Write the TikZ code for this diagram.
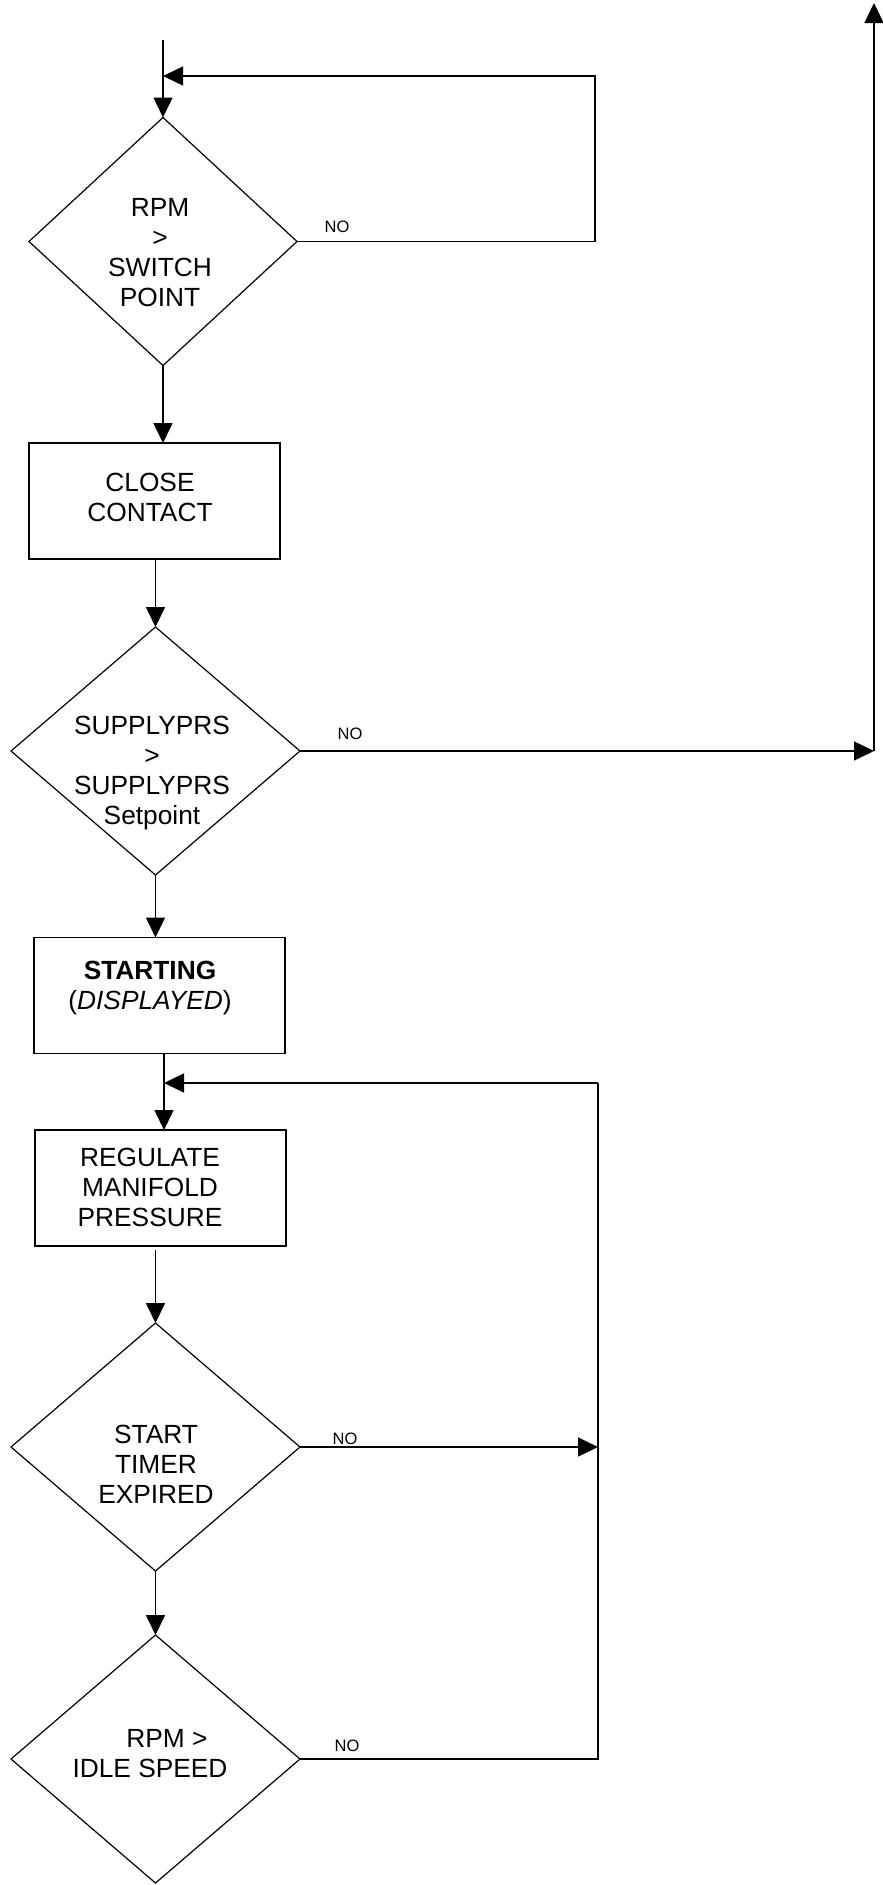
\documentclass[tikz,border=0pt]{standalone}
\usepackage{fontspec}
\setmainfont{Liberation Sans}
\usetikzlibrary{shapes.geometric,arrows.meta}
\begin{document}
\begin{tikzpicture}[x=1pt,y=-1pt,
  decision/.style={diamond,draw,line width=1.2pt,inner sep=0pt,outer sep=0pt,minimum width=#1,minimum height=248pt},
  procbox/.style={rectangle,draw,line width=1.3pt,inner sep=0pt,outer sep=0pt,minimum width=251pt,minimum height=116pt},
  txt/.style={align=center,inner sep=0pt,font=\fontsize{26.3}{30}\selectfont},
  nolab/.style={inner sep=0pt,font=\fontsize{16.5}{18}\selectfont},
  conn/.style={line width=1.5pt},
  arr/.style={conn,-{Triangle[length=20pt,width=19pt]}}]
\useasboundingbox (0,0) rectangle (883,1885);

% shapes
\node[decision=268pt] (d1) at (163,241.5) {};
\node[procbox] (r1) at (154.5,501) {};
\node[decision=289pt] (d2) at (155.5,751) {};
\node[procbox] (r2) at (159.5,995.5) {};
\node[procbox] (r3) at (160.5,1188) {};
\node[decision=289pt] (d3) at (155.5,1447) {};
\node[decision=289pt] (d4) at (155.5,1759) {};

% texts
\node[txt] (t1) at (160,253) {RPM\\>\\SWITCH\\POINT};
\node[txt] (t2) at (150,497) {CLOSE\\CONTACT};
\node[txt] (t3) at (152,773) {SUPPLYPRS\\>\\SUPPLYPRS\\Setpoint};
\node[txt] (t4) at (150,988) {\textbf{STARTING}\\(\textit{DISPLAYED})};
\node[txt] (t5) at (150,1187) {REGULATE\\MANIFOLD\\PRESSURE};
\node[txt] (t6) at (156,1464) {START\\TIMER\\EXPIRED};
\node[txt] (t7) at (150,1754) {\hspace*{34pt}RPM >\\IDLE SPEED};

% NO labels
\node[nolab] (n1) at (337,227) {NO};
\node[nolab] (n2) at (350,734) {NO};
\node[nolab] (n3) at (345,1439) {NO};
\node[nolab] (n4) at (347,1746) {NO};

% coordinates
\coordinate (start) at (163,40);
\coordinate (j1) at (163,76);
\coordinate (c1a) at (595,241.5);
\coordinate (c1b) at (595,76);
\coordinate (c2) at (874,751);
\coordinate (top) at (874,3);
\coordinate (j2) at (164,1083);
\coordinate (c3) at (598,1447);
\coordinate (c4a) at (598,1759);
\coordinate (c4b) at (598,1083);

% connectors
\draw[arr] (start) -- (d1.north);
\draw[arr] (d1.east) -- (c1a) -- (c1b) -- (j1);
\draw[arr] (d1.south) -- (d1.south |- r1.north);
\draw[arr] (r1.south -| d2.north) -- (d2.north);
\draw[arr] (d2.east) -- (c2);
\draw[arr] (c2) -- (top);
\draw[arr] (d2.south) -- (d2.south |- r2.north);
\draw[arr] (j2 |- r2.south) -- (j2 |- r3.north);
\draw[arr] (c4b) -- (j2);
\draw[arr,shorten <=4pt] (r3.south -| d3.north) -- (d3.north);
\draw[arr] (d3.east) -- (c3);
\draw[arr] (d3.south) -- (d4.north);
\draw[conn] (d4.east) -- (c4a) -- (c4b);
\end{tikzpicture}
\end{document}
